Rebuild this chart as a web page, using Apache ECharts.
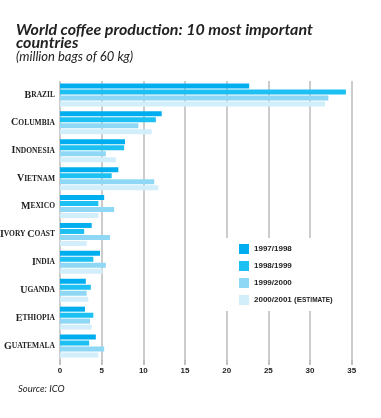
<!DOCTYPE html>
<html><head><meta charset="utf-8">
<script src="https://cdn.jsdelivr.net/npm/echarts@6/dist/echarts.min.js"></script>
<style>html,body{margin:0;padding:0;background:#fff}#c{width:381px;height:418px}</style>
</head><body><div id="c"></div>
<script>
const countries = ['Brazil','Columbia','Indonesia','Vietnam','Mexico','Ivory Coast','India','Uganda','Ethiopia','Guatemala'];
const seriesNames = ['1997/1998','1998/1999','1999/2000','2000/2001 (Estimate)'];
const v1997 = [22.7, 12.2, 7.8, 7.0, 5.3, 3.8, 4.8, 3.1, 3.0, 4.3];
const v1998 = [34.3, 11.5, 7.7, 6.2, 4.6, 2.9, 4.0, 3.7, 4.0, 3.5];
const v1999 = [32.2, 9.4, 5.5, 11.3, 6.5, 6.0, 5.5, 3.2, 3.6, 5.3];
const v2000 = [31.8, 11.0, 6.7, 11.8, 4.6, 3.2, 5.1, 3.4, 3.8, 4.6];
const xTicks = [0,5,10,15,20,25,30,35];
const colors = ['#00aeef','#1cc0f2','#8ed8f6','#d2eefb'];

function smallCaps(s){
  return s.split(' ').map(w => '{a|'+w[0]+'}{b|'+w.slice(1).toUpperCase()+'}').join('{b| }');
}
const chart = echarts.init(document.getElementById('c'));
const data = [v1997, v1998, v1999, v2000];
chart.setOption({
  animation:false,
  title:{
    text:'World coffee production: 10 most important\ncountries',
    subtext:'(million bags of 60 kg)',
    left:11, top:18, itemGap:-2,
    textStyle:{fontFamily:'Lato', fontStyle:'italic', fontWeight:'bold', fontSize:16, color:'#222', lineHeight:13},
    subtextStyle:{fontFamily:'Lato', fontStyle:'italic', fontSize:13, color:'#222'}
  },
  graphic:[{type:'text', left:18, top:384, style:{text:'Source: ICO', fontFamily:'Lato', fontStyle:'italic', fontSize:9.5, fill:'#222'}}],
  legend:{
    orient:'vertical', left:225, top:238, itemWidth:10, itemHeight:10, itemGap:7,
    backgroundColor:'#fff', padding:[6,12,6,14],
    icon:'rect',
    data:seriesNames,
    formatter: n => n.indexOf('Estimate')>=0 ? '2000/2001 ({a|E}{b|STIMATE})' : n,
    textStyle:{fontFamily:'Liberation Sans', fontWeight:'bold', fontSize:8, color:'#222',
      rich:{a:{fontFamily:'Liberation Sans', fontWeight:'bold', fontSize:8, color:'#222'}, b:{fontFamily:'Liberation Sans', fontWeight:'bold', fontSize:6.5, color:'#222'}}}
  },
  grid:{left:60, top:81, width:291.7, height:279, outerBoundsMode:'none', containLabel:false},
  xAxis:{
    type:'value', min:0, max:35, interval:5,
    axisLine:{show:false},
    axisTick:{show:true, length:5, lineStyle:{color:'#aaa', width:1.5}},
    splitLine:{show:true, lineStyle:{color:'#bbb', width:1.5}},
    axisLabel:{margin:7, fontFamily:'Liberation Sans', fontWeight:'bold', fontSize:8, color:'#222',
      formatter: v => xTicks.includes(v) ? String(v) : ''}
  },
  yAxis:{
    type:'category', data:countries, inverse:true,
    axisLine:{show:false}, axisTick:{show:false},
    axisLabel:{margin:5, formatter: smallCaps,
      rich:{a:{fontFamily:'Liberation Serif', fontWeight:'bold', fontSize:10, color:'#222'},
            b:{fontFamily:'Liberation Serif', fontWeight:'bold', fontSize:7.5, color:'#222'}}}
  },
  series: seriesNames.map((n,i)=>({
    name:n, type:'bar', data:data[i], barWidth:5, barGap:'20%', barCategoryGap:'14%',
    itemStyle:{color:colors[i]}, z:3
  }))
});
</script></body></html>
